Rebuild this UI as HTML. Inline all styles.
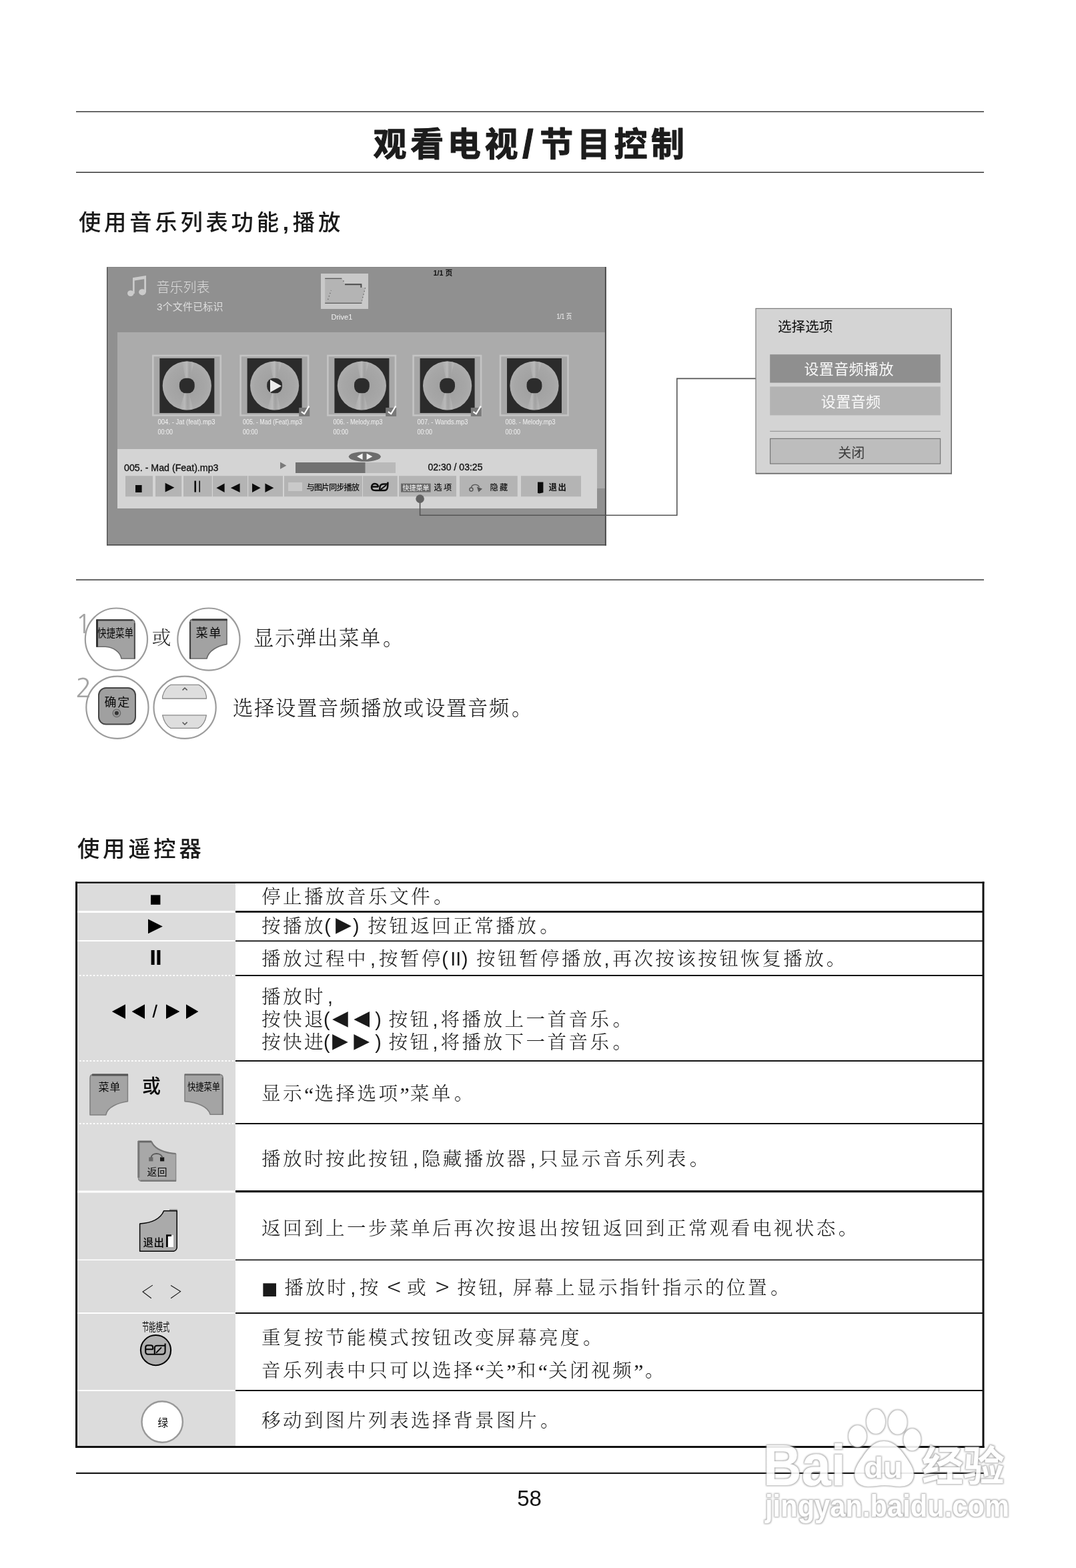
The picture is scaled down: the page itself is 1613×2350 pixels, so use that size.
<!DOCTYPE html>
<html lang="zh-CN">
<head>
<meta charset="utf-8">
<title>观看电视/节目控制</title>
<style>
html,body{margin:0;padding:0;background:#fff;}
body{width:1613px;height:2350px;overflow:hidden;position:relative;}
svg{position:absolute;left:0;top:0;display:block;filter:grayscale(1);}
text{white-space:pre;}
.hei{font-family:"Liberation Sans","Noto Sans CJK SC",sans-serif;}
.song{font-family:"Liberation Serif","Noto Serif CJK SC",serif;}
.songa{font-family:"Liberation Sans","Noto Serif CJK SC",serif;}
.title{font-weight:700;font-size:50px;letter-spacing:5.6px;fill:#1c1c1c;stroke:#1c1c1c;stroke-width:1.1px;stroke-linejoin:round;}
.h{font-weight:500;font-size:33.3px;letter-spacing:4.8px;fill:#1a1a1a;}
.b{font-weight:300;font-size:30.3px;letter-spacing:1.7px;fill:#1a1a1a;}
.t{font-weight:300;font-size:28.6px;letter-spacing:3.4px;fill:#1a1a1a;}
.q{font-family:"Liberation Serif",serif;font-size:32px;letter-spacing:1.2px;}
.tri{font-family:"DejaVu Sans","Noto Sans CJK SC",sans-serif;font-size:31px;letter-spacing:8.5px;font-weight:400;}
.ui{font-family:"Liberation Sans","Noto Sans CJK SC",sans-serif;}
</style>
</head>
<body>
<svg width="1613" height="2350" viewBox="0 0 1613 2350">
<rect x="0" y="0" width="1613" height="2350" fill="#ffffff"/>
<!-- header -->
<g id="header">
<rect x="114" y="166.7" width="1361" height="1.4" fill="#2a2a2a"/>
<rect x="114" y="257.6" width="1361" height="1.4" fill="#2a2a2a"/>
<text class="hei title" x="559.6" y="234">观看电视<tspan dx="1" dy="2" font-size="60" font-weight="900">/</tspan><tspan dx="4" dy="-2">节目控制</tspan></text>
<text class="hei h" x="118" y="345">使用音乐列表功能<tspan font-weight="700" dx="1">,</tspan><tspan dx="1">播放</tspan></text>
</g>
<!-- steps -->
<g id="steps">
<rect x="114" y="868.3" width="1361" height="1.4" fill="#2a2a2a"/>
<text class="songa b" x="380" y="967">显示弹出菜单<tspan dx="2">。</tspan></text>
<text class="songa b" x="349" y="1072">选择设置音频播放或设置音频<tspan dx="2">。</tspan></text>
<text class="hei h" x="116" y="1284">使用遥控器</text>
</g>
<!-- music list screen -->
<defs>
<radialGradient id="discg" cx="50%" cy="50%" r="50%">
<stop offset="0" stop-color="#9e9e9e"/><stop offset="0.8" stop-color="#a7a7a7"/><stop offset="1" stop-color="#adadad"/>
</radialGradient>
<linearGradient id="shine" x1="0" y1="0" x2="1" y2="0">
<stop offset="0" stop-color="#c0c0c0" stop-opacity="0"/><stop offset="0.4" stop-color="#c2c2c2" stop-opacity="0.7"/><stop offset="0.6" stop-color="#9a9a9a" stop-opacity="0.3"/><stop offset="0.8" stop-color="#bcbcbc" stop-opacity="0.55"/><stop offset="1" stop-color="#c0c0c0" stop-opacity="0"/>
</linearGradient>
<clipPath id="discclip"><circle cx="41" cy="41" r="36.6"/></clipPath>
<g id="thumb">
<rect x="-10" y="-4" width="101.5" height="89.5" fill="#a7a7a7" stroke="#c4c4c4" stroke-width="2.6"/>
<rect x="0" y="0" width="82" height="82" fill="#2b2b2b"/>
<circle cx="41" cy="41" r="36.6" fill="url(#discg)"/>
<g clip-path="url(#discclip)">
<path d="M41 41 L33 3 L53 3 Z" fill="url(#shine)"/>
<path d="M41 41 L29 79 L51 79 Z" fill="url(#shine)"/>
</g>
<rect x="29.6" y="29.8" width="22.8" height="22.4" rx="9.6" ry="9.6" fill="#2c2c2c"/>
</g>
<g id="chk">
<rect x="0" y="0" width="16" height="13" fill="#797979"/>
<path d="M3.6 6.2 L8 9.2 L15 -2.4" fill="none" stroke="#fff" stroke-width="2.1" stroke-linejoin="miter"/>
</g>
</defs>
<g id="screen">
<rect x="160" y="400" width="748" height="417" fill="#909090"/>
<rect x="176" y="498" width="731.5" height="234" fill="#ababab"/>
<rect x="176" y="673" width="719" height="89" fill="#d4d4d4"/>
<rect x="160" y="400" width="1.3" height="417.2" fill="#4c4c4c"/>
<rect x="160" y="400" width="748" height="0.7" fill="#808080"/>
<rect x="906.9" y="400" width="1.9" height="417.6" fill="#444"/>
<rect x="160" y="816" width="748.8" height="1.6" fill="#444"/>
<!-- header -->
<g fill="#cbcbcb" stroke="none">
<ellipse cx="195.8" cy="439.6" rx="4.8" ry="4.3"/>
<ellipse cx="213.4" cy="437.8" rx="5.3" ry="4.6"/>
<path d="M199 416.2 L219 413 L219 438 L216.2 438 L216.2 418.2 L201.7 420.6 L201.7 440 L199 440 Z"/>
</g>
<text class="ui" x="234.6" y="438.4" font-size="20" fill="#dcdcdc" font-weight="300" letter-spacing="0">音乐列表</text>
<text class="ui" x="235" y="465.4" font-size="15" fill="#dedede" letter-spacing="0.2">3个文件已标识</text>
<rect x="481" y="410" width="71" height="53" fill="#c9c9c9"/>
<path d="M487.2 416.8 L512 416.8 L517 425.6 L541.8 425.6 L541.8 431 L548 431 L542.2 454.8 L487.2 454.8 Z" fill="#b4b4b4"/>
<path d="M487.2 417.4 L512.4 417.4" fill="none" stroke="#5a5a5a" stroke-width="1.3"/>
<path d="M517 426.2 L541.4 426.2 L541.4 431" fill="none" stroke="#4c4c4c" stroke-width="2"/>
<path d="M487.2 454.4 L542.4 454.4" fill="none" stroke="#5a5a5a" stroke-width="1.3"/>
<path d="M491.6 449 L496.4 435" fill="none" stroke="#606060" stroke-width="1.3" stroke-dasharray="1.3 3.4"/>
<path d="M547.6 431.4 L542.4 450.6" fill="none" stroke="#606060" stroke-width="1.3" stroke-dasharray="1.3 3.4"/>
<rect x="514" y="420.6" width="1.8" height="1.2" fill="#606060"/>
<text class="ui" x="496.5" y="479" font-size="11" fill="#f2f2f2">Drive1</text>
<text class="ui" x="649.5" y="413" font-size="11.6" font-weight="700" fill="#111" textLength="28.6" lengthAdjust="spacingAndGlyphs">1/1 页</text>
<text class="ui" x="834.4" y="478" font-size="10.4" fill="#f4f4f4" textLength="22.8" lengthAdjust="spacingAndGlyphs">1/1 页</text>
<!-- thumbs -->
<use href="#thumb" x="239.3" y="537"/>
<use href="#thumb" x="370.6" y="537"/>
<use href="#thumb" x="501.4" y="537"/>
<use href="#thumb" x="629.6" y="537"/>
<use href="#thumb" x="760" y="537"/>
<path d="M405 569 L422 578.6 L405 588 Z" fill="#ececec"/>
<use href="#chk" x="448.2" y="611"/>
<use href="#chk" x="578.2" y="611"/>
<use href="#chk" x="705.8" y="611"/>
<g class="ui" font-size="10.6" fill="#f1f1f1">
<text x="236.5" y="635.5" textLength="86" lengthAdjust="spacingAndGlyphs">004. - Jat (feat).mp3</text>
<text x="236.5" y="651" textLength="22.4" lengthAdjust="spacingAndGlyphs">00:00</text>
<text x="364" y="635.5" textLength="89" lengthAdjust="spacingAndGlyphs">005. - Mad (Feat).mp3</text>
<text x="364" y="651" textLength="22.4" lengthAdjust="spacingAndGlyphs">00:00</text>
<text x="499.5" y="635.5" textLength="74" lengthAdjust="spacingAndGlyphs">006. - Melody.mp3</text>
<text x="499.5" y="651" textLength="22.4" lengthAdjust="spacingAndGlyphs">00:00</text>
<text x="625.5" y="635.5" textLength="76" lengthAdjust="spacingAndGlyphs">007. - Wands.mp3</text>
<text x="625.5" y="651" textLength="22.4" lengthAdjust="spacingAndGlyphs">00:00</text>
<text x="757.5" y="635.5" textLength="75" lengthAdjust="spacingAndGlyphs">008. - Melody.mp3</text>
<text x="757.5" y="651" textLength="22.4" lengthAdjust="spacingAndGlyphs">00:00</text>
</g>
<!-- player bar -->
<ellipse cx="546.8" cy="684.3" rx="24" ry="7.4" fill="#6c6c6c"/>
<path d="M543.6 679.6 L543.6 689 L535 684.3 Z M549.6 679.6 L549.6 689 L558.4 684.3 Z" fill="#f4f4f4"/>
<text class="ui" x="186" y="706.4" font-size="14.2" fill="#101010" stroke="#101010" stroke-width="0.3" textLength="141.5" lengthAdjust="spacingAndGlyphs">005. - Mad (Feat).mp3</text>
<path d="M420 692.6 L429.4 697.8 L420 703 Z" fill="#7a7a7a"/>
<rect x="443" y="693" width="150" height="16" fill="#b9b9b9"/>
<rect x="443" y="693" width="104.5" height="16" fill="#717171"/>
<text class="ui" x="641.5" y="704.6" font-size="14" fill="#101010" stroke="#101010" stroke-width="0.35" textLength="82" lengthAdjust="spacingAndGlyphs">02:30 / 03:25</text>
<g fill="#b4b4b4">
<rect x="188" y="713.2" width="41" height="31"/>
<rect x="233" y="713.2" width="39.2" height="31"/>
<rect x="275" y="713.2" width="42.8" height="31"/>
<rect x="319" y="713.2" width="52" height="31"/>
<rect x="372.2" y="713.2" width="51.8" height="31"/>
<rect x="426" y="713.2" width="117" height="31"/>
<rect x="544" y="713.2" width="51.8" height="31"/>
<rect x="598" y="713.2" width="86" height="31"/>
<rect x="689" y="713.2" width="86.8" height="31"/>
<rect x="781" y="713.2" width="90" height="31"/>
</g>
<g fill="#0c0c0c">
<rect x="203" y="727" width="9.6" height="11"/>
<path d="M247.6 723.8 L247.6 737.6 L261.4 730.7 Z"/>
<rect x="291.4" y="720.6" width="2.6" height="17"/>
<rect x="298.4" y="720.6" width="1.6" height="17"/>
<path d="M336.6 724.6 L336.6 738 L324.4 731.3 Z M359.6 724.6 L359.6 738 L345.8 731.3 Z"/>
<path d="M378 724.6 L378 738 L390.6 731.3 Z M397.4 724.6 L397.4 738 L410.4 731.3 Z"/>
</g>
<rect x="432" y="723" width="21" height="13" fill="#c9c9c9"/>
<text class="ui" x="459.4" y="735" font-size="12.2" font-weight="500" fill="#101010" textLength="79.6" lengthAdjust="spacing">与图片同步播放</text>
<!-- eco logo -->
<g fill="none" stroke="#0c0c0c" stroke-width="2.5" stroke-linejoin="round">
<path d="M567 729.6 L557.4 729.6 M567 729.8 C567 723.6 557 723.2 557 729.8 C557 735.2 560 735 566 735 L576 735 C581 735 581.4 731 581.4 722.6 M569.2 735 C569.2 728 570 725.6 575 725.4 L581.4 725.2"/>
<path d="M570.6 733.8 L579 727" stroke-width="2"/>
</g>
<rect x="601" y="724.6" width="44.6" height="13" fill="#6a6a6a"/>
<text class="ui" x="603.5" y="735.2" font-size="10.6" fill="#f4f4f4" textLength="40" lengthAdjust="spacingAndGlyphs">快捷菜单</text>
<text class="ui" x="650.5" y="735" font-size="12.2" font-weight="500" fill="#101010" letter-spacing="2.2">选项</text>
<g fill="none" stroke="#555" stroke-width="1.4">
<circle cx="706.4" cy="733.6" r="2.6"/>
<path d="M706.4 731 C707 725.4 716 724.6 718.4 730"/>
</g>
<path d="M715 729.4 L723 732.4 L717.4 737.4 Z" fill="#555"/>
<text class="ui" x="734.5" y="735" font-size="12.2" font-weight="500" fill="#101010" letter-spacing="2.2">隐藏</text>
<path d="M806 722.6 L814.4 722.6 L814.4 738.2 L808.6 739.6 L806 739 Z" fill="#0c0c0c"/>
<text class="ui" x="822.5" y="735" font-size="12.4" font-weight="700" fill="#101010" letter-spacing="1.6">退出</text>
<!-- callout -->
<path d="M629.6 747.6 L629.6 772.3 L1014.8 772.3 L1014.8 567.4 L1133 567.4" fill="none" stroke="#555" stroke-width="1.6"/>
<circle cx="629.6" cy="747.6" r="6.3" fill="#626262"/>
</g>
<!-- popup -->
<g id="popup">
<rect x="1133" y="462.4" width="293.2" height="247.4" fill="#d4d4d4" stroke="#7c7c7c" stroke-width="1.2"/>
<rect x="1133" y="708.8" width="293.8" height="1.6" fill="#6a6a6a"/>
<rect x="1425.6" y="462.4" width="1.4" height="248" fill="#6e6e6e"/>
<text class="ui" x="1166" y="497" font-size="20.6" fill="#0c0c0c" letter-spacing="0">选择选项</text>
<rect x="1154.2" y="531.2" width="255.6" height="42.4" fill="#8f8f8f"/>
<text class="ui" x="1272.6" y="561" font-size="22" fill="#fafafa" text-anchor="middle" letter-spacing="0.4">设置音频播放</text>
<rect x="1154.2" y="579.4" width="255.6" height="43" fill="#b3b3b3"/>
<text class="ui" x="1275.6" y="610" font-size="22" fill="#fafafa" text-anchor="middle" letter-spacing="0.4">设置音频</text>
<rect x="1154.2" y="645.8" width="255.6" height="1" fill="#8a8a8a"/>
<rect x="1154.6" y="657.4" width="255" height="37.6" fill="#bdbdbd" stroke="#777" stroke-width="1.2"/>
<text class="ui" x="1276.2" y="686.4" font-size="20" fill="#3c3c3c" text-anchor="middle" letter-spacing="0">关闭</text>
</g>
<!-- step icons -->
<g id="stepicons">
<text x="113" y="949" font-family="NanumGothic,'Liberation Sans',sans-serif" font-size="40" fill="#a4a4a4">1</text>
<text x="113.2" y="1044.8" font-family="NanumGothic,'Liberation Sans',sans-serif" font-size="40" fill="#a4a4a4">2</text>
<circle cx="174.4" cy="958.1" r="46.6" fill="none" stroke="#9c9c9c" stroke-width="2.2"/>
<circle cx="312.9" cy="958.1" r="46.6" fill="none" stroke="#9c9c9c" stroke-width="2.2"/>
<circle cx="175.9" cy="1060.3" r="46.6" fill="none" stroke="#9c9c9c" stroke-width="2.2"/>
<circle cx="277.1" cy="1060.3" r="46.6" fill="none" stroke="#9c9c9c" stroke-width="2.2"/>
<!-- quick menu button -->
<path d="M145 929 L198 929 Q202 929 202 934 L202 987 L182 987 C180 977 170 970 158 969.3 L145 969.3 Z" fill="#a2a2a2" stroke="#6a6a6a" stroke-width="1.6" stroke-linejoin="round"/>
<path d="M145.4 929.4 L199 929.4" stroke="#3a3a3a" stroke-width="2.4" fill="none"/>
<path d="M145.5 928.4 L145.5 969.6" stroke="#333" stroke-width="3" fill="none"/>
<path d="M201.8 934 L201.8 987.4" stroke="#505050" stroke-width="2" fill="none"/>
<text class="ui" x="146" y="955" font-size="17.5" fill="#0a0a0a" textLength="54" lengthAdjust="spacingAndGlyphs">快捷菜单</text>
<!-- menu button -->
<path d="M285 987 L285 932 Q285 928.4 289.6 928.4 L340 928.4 L340 965.6 C326 967.6 312.6 975.6 310 987 Z" fill="#a2a2a2" stroke="#6a6a6a" stroke-width="1.6" stroke-linejoin="round"/>
<path d="M288 928.8 L340.6 928.8" stroke="#3a3a3a" stroke-width="2.8" fill="none"/>
<path d="M285 932 L285 987.4" stroke="#404040" stroke-width="2.2" fill="none"/>
<text class="ui" x="293.5" y="955" font-size="18.2" fill="#0a0a0a" letter-spacing="1.6">菜单</text>
<text class="songa" x="227.8" y="966.4" font-size="28.6" font-weight="300" fill="#1a1a1a">或</text>
<!-- OK button -->
<rect x="148" y="1031" width="55" height="54.6" rx="11" ry="11" fill="#a0a0a0" stroke="#454545" stroke-width="2"/>
<text class="ui" x="156.6" y="1058.6" font-size="18" fill="#0a0a0a" letter-spacing="1.6">确定</text>
<circle cx="174.9" cy="1068.8" r="5.8" fill="#999" stroke="#666" stroke-width="1.2"/>
<circle cx="174.9" cy="1068.8" r="3" fill="#333"/>
<!-- up/down -->
<path d="M243.6 1047 L243.6 1043.6 C246 1035 250 1029 256 1026.4 L298 1026.4 C304 1029 308 1035 309.4 1043.6 L309.4 1047 Z" fill="#dedede" stroke="#8a8a8a" stroke-width="1.3" stroke-linejoin="round"/>
<path d="M243.6 1071.8 L309.4 1071.8 C308 1081 303 1088 297 1091.4 L256 1091.4 C250 1088 245.6 1081 243.6 1071.8 Z" fill="#dedede" stroke="#8a8a8a" stroke-width="1.3" stroke-linejoin="round"/>
<path d="M273.6 1034.4 L277 1031 L280.6 1034.4" fill="none" stroke="#555" stroke-width="1.5"/>
<path d="M273.6 1082.4 L277 1086 L280.6 1082.4" fill="none" stroke="#555" stroke-width="1.5"/>
</g>
<!-- table -->
<g id="table">
<rect x="116" y="1323" width="237" height="845" fill="#dcdcdc"/>
<!-- white separators in left column -->
<rect x="116" y="1365" width="237" height="3" fill="#fff"/>
<rect x="116" y="1409" width="237" height="2" fill="#fff"/>
<line x1="119" y1="1462" x2="351" y2="1462" stroke="#fff" stroke-width="2" stroke-dasharray="2.6 2.6"/>
<line x1="119" y1="1590" x2="351" y2="1590" stroke="#fff" stroke-width="2" stroke-dasharray="2.6 2.6"/>
<line x1="119" y1="1684" x2="351" y2="1684" stroke="#fff" stroke-width="2.2" stroke-dasharray="2.6 2.6"/>
<rect x="116" y="1784.5" width="237" height="3" fill="#fff"/>
<rect x="116" y="1887.5" width="237" height="1.5" fill="#fff"/>
<rect x="116" y="1967" width="237" height="2" fill="#fff"/>
<rect x="116" y="2083" width="237" height="2" fill="#fff"/>
<!-- black separators right column -->
<rect x="353" y="1365" width="1122" height="2.8" fill="#111"/>
<rect x="353" y="1409.4" width="1122" height="1.8" fill="#111"/>
<rect x="353" y="1461" width="1122" height="2" fill="#111"/>
<rect x="353" y="1589" width="1122" height="2" fill="#111"/>
<rect x="353" y="1683" width="1122" height="2" fill="#111"/>
<rect x="353" y="1784" width="1122" height="3.2" fill="#111"/>
<rect x="353" y="1887.5" width="1122" height="1.6" fill="#111"/>
<rect x="353" y="1967" width="1122" height="2" fill="#111"/>
<rect x="353" y="2083" width="1122" height="2" fill="#111"/>
<!-- outer border -->
<rect x="113" y="1321.5" width="1362.5" height="2.4" fill="#111"/>
<rect x="113" y="2167" width="1362.5" height="3" fill="#111"/>
<rect x="113" y="1321.5" width="3" height="848.5" fill="#111"/>
<rect x="1472.5" y="1321.5" width="3" height="848.5" fill="#111"/>
<!-- right column text -->
<text class="songa t" x="392" y="1354.2">停止播放音乐文件<tspan dx="2">。</tspan></text>
<text class="songa t" x="392" y="1398.2">按播放<tspan dx="-1.8">(</tspan><tspan class="tri" dy="-1.9" dx="4" style="letter-spacing:0">▶</tspan><tspan dx="2" dy="1.9">)</tspan><tspan dx="-1.9"> </tspan>按钮返回正常播放<tspan dx="2">。</tspan></text>
<text class="songa t" x="392" y="1447.2">播放过程中<tspan dx="3">,</tspan><tspan dx="1.5">按</tspan>暂停<tspan dx="-1.5">(</tspan>I<tspan dx="-3.3">I</tspan><tspan dx="-2.8">)</tspan><tspan dx="-2.3"> </tspan>按钮暂停播放<tspan dx="-0.4">,</tspan><tspan dx="1.5">再</tspan>次按该按钮恢复播放<tspan dx="0.5">。</tspan></text>
<text class="songa t" x="392" y="1504.4">播放时<tspan dx="3">,</tspan></text>
<text class="songa t" x="392" y="1538">按快退<tspan dx="-2.9">(</tspan><tspan class="tri" dy="-2.2" dx="0">◀◀</tspan><tspan dx="-0.5" dy="2.2">)</tspan><tspan dx="-4.1"> </tspan>按钮<tspan dx="2.1">,</tspan><tspan dx="0.7">将</tspan>播放上一首音乐<tspan dx="2">。</tspan></text>
<text class="songa t" x="392" y="1572">按快进<tspan dx="-2.9">(</tspan><tspan class="tri" dy="-2.2" dx="0">▶▶</tspan><tspan dx="-0.5" dy="2.2">)</tspan><tspan dx="-4.1"> </tspan>按钮<tspan dx="2.1">,</tspan><tspan dx="0.7">将</tspan>播放下一首音乐<tspan dx="2">。</tspan></text>
<text class="songa t" x="392" y="1649.2">显示<tspan class="q" dy="3">“</tspan><tspan dy="-3">选</tspan>择选项<tspan class="q" dy="3">”</tspan><tspan dy="-3">菜</tspan>单<tspan dx="2">。</tspan></text>
<text class="songa t" x="392" y="1747.2">播放时按此按钮<tspan dx="3">,</tspan><tspan dx="1.5">隐</tspan>藏播放器<tspan dx="3">,</tspan><tspan dx="1.5">只</tspan>显示音乐列表<tspan dx="2">。</tspan></text>
<text class="songa t" x="392" y="1851.2">返回到上一步菜单后再次按退出按钮返回到正常观看电视状态<tspan dx="1">。</tspan></text>
<text class="songa t" x="392" y="1940.2"><tspan class="tri" style="font-size:25.8px;letter-spacing:0" dy="-0.7">■</tspan><tspan dy="0.7"> </tspan><tspan dx="-1.4">播</tspan>放时<tspan dx="3">,</tspan><tspan dx="2">按</tspan> <tspan font-family="'Noto Sans CJK SC',sans-serif" font-weight="300" font-size="38" letter-spacing="0" dy="3" dx="-1.5">&lt;</tspan><tspan dy="-3"> </tspan><tspan dx="-2">或</tspan> <tspan font-family="'Noto Sans CJK SC',sans-serif" font-weight="300" font-size="38" letter-spacing="0" dy="3" dx="-0.5">&gt;</tspan><tspan dy="-3"> </tspan><tspan dx="0.5">按</tspan>钮<tspan dx="-3">,</tspan> 屏幕上显示指针指示的位置<tspan dx="2">。</tspan></text>
<text class="songa t" x="392" y="2015.2">重复按节能模式按钮改变屏幕亮度<tspan dx="2">。</tspan></text>
<text class="songa t" x="392" y="2064.2">音乐列表中只可以选择<tspan class="q" dy="3">“</tspan><tspan dy="-3">关</tspan><tspan class="q" dy="3">”</tspan><tspan dy="-3">和</tspan><tspan class="q" dy="3">“</tspan><tspan dy="-3">关</tspan>闭视频<tspan class="q" dy="3">”</tspan><tspan dy="-3" dx="1.5">。</tspan></text>
<text class="songa t" x="392" y="2139.2">移动到图片列表选择背景图片<tspan dx="2">。</tspan></text>
</g>
<!-- footer -->
<g id="footer">
<rect x="114" y="2206.8" width="1361" height="2.2" fill="#1a1a1a"/>
<text class="hei" x="775.2" y="2256.6" font-size="33" fill="#111">58</text>
</g>
<!-- table icons -->
<g id="tableicons">
<rect x="226" y="1341.4" width="14.4" height="14.4" fill="#000"/>
<path d="M222 1377.6 L222 1399.2 L243.8 1388.4 Z" fill="#000"/>
<rect x="226.6" y="1424" width="5" height="22" fill="#000"/>
<rect x="235.4" y="1424" width="5" height="22" fill="#000"/>
<path d="M188 1505.2 L188 1527 L167.8 1516 Z M217 1505.2 L217 1527 L197.6 1516 Z M249 1505.2 L249 1527 L269.4 1516 Z M279 1505.2 L279 1527 L297.4 1516 Z" fill="#000"/>
<path d="M233.6 1505.8 L236 1505.8 L230.8 1525 L228.4 1525 Z" fill="#000"/>
<!-- menu button -->
<path d="M135 1671 L135 1616 Q135 1610.4 140 1610.4 L191.4 1610.4 L191.4 1650.8 C178 1652.6 160.6 1659 158.8 1671 Z" fill="#a4a4a4" stroke="#808080" stroke-width="1.6" stroke-linejoin="round"/>
<path d="M138 1611 L192 1611" stroke="#555" stroke-width="2.8" fill="none"/>
<text class="ui" x="147.6" y="1634.6" font-size="16" fill="#0a0a0a" letter-spacing="0.6">菜单</text>
<text class="hei" x="213" y="1637.6" font-size="28" font-weight="500" fill="#0a0a0a">或</text>
<!-- quick menu button -->
<path d="M277 1610.2 L329 1610.2 Q334.2 1610.2 334.2 1616 L334.2 1670.2 L315 1670.2 C312.6 1659 296 1652 277 1650.6 Z" fill="#a4a4a4" stroke="#808080" stroke-width="1.6" stroke-linejoin="round"/>
<path d="M277 1610.6 L330 1610.6" stroke="#6a6a6a" stroke-width="2.4" fill="none"/>
<path d="M333.6 1615 L333.6 1670.6" stroke="#6e6e6e" stroke-width="2" fill="none"/>
<text class="ui" x="281" y="1634.4" font-size="15" fill="#0a0a0a" textLength="49" lengthAdjust="spacingAndGlyphs">快捷菜单</text>
<!-- back button -->
<path d="M207.4 1710.6 L227 1710.6 C231 1720 240 1727.6 263.6 1729.4 L263.6 1770 L212 1770 Q207.4 1770 207.4 1765 Z" fill="#a8a8a8" stroke="#8a8a8a" stroke-width="1.5" stroke-linejoin="round"/>
<path d="M207 1711 L227 1711" stroke="#666" stroke-width="2.8" fill="none"/>
<path d="M207.8 1710 L207.8 1765" stroke="#777" stroke-width="3" fill="none"/>
<path d="M210.6 1769.6 L264 1769.6" stroke="#777" stroke-width="2.4" fill="none"/>
<path d="M227 1711 C231 1720 240 1727.2 263.6 1729" stroke="#777" stroke-width="2" fill="none"/>
<rect x="223.2" y="1734.4" width="6.2" height="6" fill="#686868"/>
<rect x="240" y="1734.4" width="6.2" height="6" fill="#1a1a1a"/>
<path d="M226.6 1735 C227 1727 242 1727 243.4 1735" fill="none" stroke="#5a5a5a" stroke-width="2"/>
<text class="ui" x="220.6" y="1762.4" font-size="14.8" fill="#0a0a0a" letter-spacing="0.4">返回</text>
<!-- exit button -->
<rect x="254" y="1812.4" width="11.8" height="2.4" fill="#8a8a8a"/>
<path d="M209.6 1875.2 L209.6 1834 C226 1833 240 1828 245.6 1814.8 L265.2 1814.8 L265.2 1870 Q264.6 1874 260.4 1875.2 Z" fill="#aaaaaa" stroke="#050505" stroke-width="1.5" stroke-linejoin="round"/>
<text class="ui" x="214.4" y="1868.2" font-size="15.6" fill="#050505" font-weight="500" letter-spacing="0.4">退出</text>
<rect x="249" y="1851" width="11" height="18" fill="#fff"/>
<path d="M250.4 1869 L250.4 1851.6 L257 1851.6" fill="none" stroke="#050505" stroke-width="2.8"/>
<!-- < > -->
<path d="M228.8 1926.1 L214 1936 L226.8 1945.7" fill="none" stroke="#161616" stroke-width="1.1"/>
<path d="M256.1 1926.5 L270.6 1935.6 L256.1 1945.7" fill="none" stroke="#161616" stroke-width="1.1"/>
<!-- eco -->
<text class="ui" x="213" y="1995" font-size="16.6" fill="#0a0a0a" textLength="41.5" lengthAdjust="spacingAndGlyphs">节能模式</text>
<circle cx="233.5" cy="2023.6" r="22.6" fill="#b0b0b0" stroke="#050505" stroke-width="2.1"/>
<g fill="none" stroke="#050505" stroke-width="2.1" stroke-linejoin="round">
<path d="M229.2 2022.3 L218.2 2022.3 M229.2 2022.6 L229.2 2019.4 Q229.2 2016.3 226 2016.3 L221.4 2016.3 Q218.2 2016.3 218.2 2019.4 L218.2 2026 Q218.2 2029.7 222 2029.7 L243 2029.7 Q247.6 2029.7 247.6 2025 L247.6 2013.4"/>
<path d="M231.8 2029.7 L231.8 2020.2 Q231.8 2016.7 235.4 2016.7 L247.6 2016.7"/>
<path d="M234 2027.6 L242 2019.4" stroke-width="2"/>
</g>
<!-- green -->
<circle cx="243.2" cy="2131" r="30.7" fill="#fff" stroke="#999" stroke-width="2.4"/>
<text class="ui" x="236.6" y="2137.6" font-size="15.6" fill="#0a0a0a">绿</text>
</g>
<!-- watermark -->
<defs>
<filter id="wm" x="-5%" y="-10%" width="110%" height="120%" color-interpolation-filters="sRGB">
<feMorphology in="SourceAlpha" operator="dilate" radius="1.3" result="d"/>
<feGaussianBlur in="d" stdDeviation="1.1" result="b"/>
<feFlood flood-color="#8c8c8c" flood-opacity="0.8"/>
<feComposite in2="b" operator="in" result="sh"/>
<feGaussianBlur in="SourceGraphic" stdDeviation="0.5" result="sg"/>
<feMerge><feMergeNode in="sh"/><feMergeNode in="sg"/></feMerge>
</filter>
</defs>
<g id="watermark" filter="url(#wm)" opacity="0.9" fill="#fff" font-family="'Liberation Sans','Noto Sans CJK SC',sans-serif" font-weight="700">
<ellipse cx="1285.5" cy="2152.5" rx="13.4" ry="16.2"/>
<ellipse cx="1313" cy="2130.4" rx="14" ry="18.4"/>
<ellipse cx="1345.6" cy="2131.6" rx="14" ry="18"/>
<ellipse cx="1367.4" cy="2157.6" rx="13" ry="16.4"/>
<path d="M1325 2160 C1340 2160 1350 2172 1358 2184 C1368 2198 1374 2210 1366 2221 C1357 2232 1340 2226 1326 2226 C1312 2226 1296 2232 1286 2222 C1276 2210 1284 2196 1293 2184 C1301 2172 1310 2160 1325 2160 Z"/>
<text x="1144" y="2226.4" font-size="88" textLength="124" lengthAdjust="spacingAndGlyphs">Bai</text>
<text x="1382" y="2220" font-size="62" textLength="124" lengthAdjust="spacingAndGlyphs">经验</text>
<text x="1147" y="2273" font-size="45.5" textLength="366" lengthAdjust="spacingAndGlyphs">jingyan.baidu.com</text>
</g>
<g filter="url(#wm)" opacity="0.9" fill="#fff" font-family="'Liberation Sans',sans-serif" font-weight="700">
<text x="1295" y="2215" font-size="45" textLength="58" lengthAdjust="spacingAndGlyphs">du</text>
</g>
</svg>
</body>
</html>
